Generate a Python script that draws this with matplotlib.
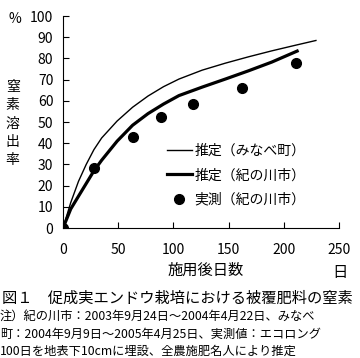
import matplotlib.pyplot as plt

plt.rcParams['font.family'] = ['Noto Sans CJK JP', 'DejaVu Sans']

# 推定（みなべ町）
days_minabe = [0, 7, 14, 21, 28, 35, 49, 63, 77, 91, 105, 126, 147, 168, 189, 210, 229]
rate_minabe = [0, 12, 22, 30, 37, 42.5, 50.5, 57, 62.3, 66.7, 70.3, 74.5, 77.8, 80.8, 83.6, 86.2, 88.5]

# 推定（紀の川市）
days_kino = [0, 7, 14, 21, 28, 35, 49, 63, 77, 91, 105, 126, 147, 168, 189, 212]
rate_kino = [0, 9, 15, 21, 27, 32, 41, 48.5, 54, 58.5, 62.5, 66.5, 70.3, 74.2, 78.3, 83.5]

# 実測（紀の川市）
days_obs = [0, 28, 63, 89, 118, 162, 211]
rate_obs = [0, 28.3, 43, 52.4, 58.5, 66, 77.8]

xticks = [0, 50, 100, 150, 200, 250]
yticks = [0, 10, 20, 30, 40, 50, 60, 70, 80, 90, 100]

fig = plt.figure(figsize=(3.6, 3.58), dpi=100)
ax = fig.add_axes([0.175, 0.363, 0.767, 0.592])

ax.plot(days_minabe, rate_minabe, color='black', lw=1.0, label='推定（みなべ町）')
ax.plot(days_kino, rate_kino, color='black', lw=2.3, label='推定（紀の川市）')
ax.plot(days_obs, rate_obs, 'o', color='black', ms=7, ls='none', label='実測（紀の川市）')

ax.set_xlim(0, 250)
ax.set_ylim(0, 100)
ax.set_xticks(xticks)
ax.set_yticks(yticks)
ax.tick_params(direction='in', length=4, width=0.8, labelsize=10)
ax.tick_params(axis='x', pad=11)
ax.tick_params(axis='y', pad=7)
ax.spines['top'].set_visible(False)
ax.spines['right'].set_visible(False)
for s in ('left', 'bottom'):
    ax.spines[s].set_linewidth(0.8)
for lab in ax.get_xticklabels() + ax.get_yticklabels():
    lab.set_clip_on(False)

ax.legend(loc='upper left', bbox_to_anchor=(0.35, 0.43), frameon=False,
          fontsize=10, borderpad=0, handlelength=1.8, handletextpad=0.2,
          labelspacing=0.75, numpoints=1)

fig.text(0.042, 0.948, '%', fontsize=10, ha='center', va='center')
fig.text(0.035, 0.655, '\n'.join('窒素溶出率'), fontsize=10, ha='center', va='center',
         linespacing=1.4)
fig.text(0.57, 0.245, '施用後日数', fontsize=11, ha='center', va='center')
fig.text(0.945, 0.238, '日', fontsize=11, ha='center', va='center')

fig.text(0.005, 0.168, '図１　促成実エンドウ栽培における被覆肥料の窒素', fontsize=11,
         ha='left', va='center')
notes = ['注）紀の川市：2003年9月24日～2004年4月22日、みなべ',
         '町：2004年9月9日～2005年4月25日、実測値：エコロング',
         '100日を地表下10cmに埋設、全農施肥名人により推定']
for i, t in enumerate(notes):
    fig.text(0.0, 0.116 - i * 0.049, t, fontsize=8.8, ha='left', va='center')

fig.savefig('out.png', dpi=100)
